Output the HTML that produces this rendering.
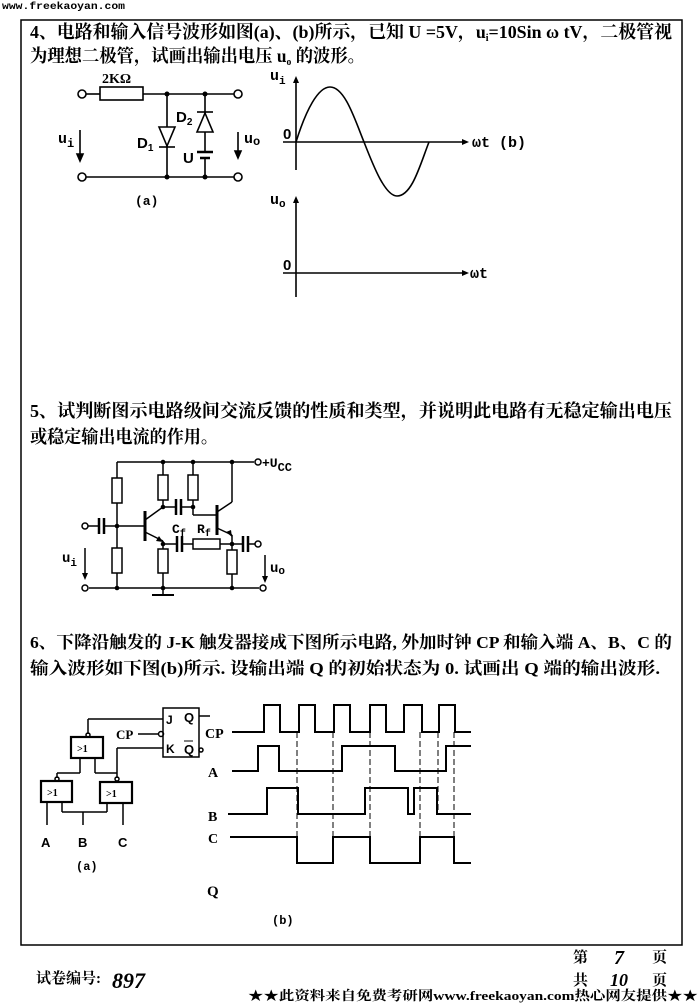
<!DOCTYPE html>
<html><head><meta charset="utf-8"><style>
html,body{margin:0;padding:0;background:#fff;}
svg{display:block;}
text{font-family:"Liberation Serif","Noto Serif CJK SC",serif;font-weight:bold;fill:#000;}
.s{font-family:"Liberation Sans","Noto Sans CJK SC",sans-serif;}
.m{font-family:"Liberation Mono",monospace;}
</style></head><body>
<svg width="700" height="1008" viewBox="0 0 700 1008" xmlns="http://www.w3.org/2000/svg">
<g stroke="#000" fill="none" stroke-width="1.6">
<!-- frame -->
<rect x="21" y="20" width="661" height="925" stroke-width="1.5"/>

<!-- Section 4 circuit (a) -->
<line x1="86" y1="94" x2="100" y2="94"/>
<rect x="100" y="87" width="43" height="13"/>
<line x1="143" y1="94" x2="234" y2="94"/>
<circle cx="82" cy="94" r="4"/><circle cx="238" cy="94" r="4"/>
<line x1="86" y1="177" x2="234" y2="177"/>
<circle cx="82" cy="177" r="4"/><circle cx="238" cy="177" r="4"/>
<line x1="167" y1="94" x2="167" y2="177"/>
<polygon points="159,127 175,127 167,146" fill="#fff"/>
<line x1="159" y1="147" x2="175" y2="147"/>
<line x1="205" y1="94" x2="205" y2="152"/>
<polygon points="197,132 213,132 205,113" fill="#fff"/>
<line x1="197" y1="112" x2="213" y2="112"/>
<line x1="197" y1="152" x2="213" y2="152" stroke-width="2.5"/>
<line x1="200" y1="158" x2="210" y2="158" stroke-width="2.5"/>
<line x1="205" y1="158" x2="205" y2="177"/>
<line x1="80" y1="130" x2="80" y2="158"/>
<polygon points="77,154 83,154 80,161" fill="#000"/>
<line x1="238" y1="132" x2="238" y2="155"/>
<polygon points="235,151 241,151 238,158" fill="#000"/>
</g>
<g fill="#000">
<circle cx="167" cy="94" r="2.5"/><circle cx="205" cy="94" r="2.5"/>
<circle cx="167" cy="177" r="2.5"/><circle cx="205" cy="177" r="2.5"/>
</g>
<text x="30" y="38" font-size="18" textLength="642" lengthAdjust="spacingAndGlyphs">4、电路和输入信号波形如图(a)、(b)所示，已知 U =5V，u<tspan font-size="10" dy="3">i</tspan><tspan dy="-3">=10Sin ω tV，二极管视</tspan></text>
<text x="30" y="62" font-size="18" textLength="335" lengthAdjust="spacingAndGlyphs">为理想二极管，试画出输出电压 u<tspan font-size="10" dy="3">o</tspan><tspan dy="-3"> 的波形。</tspan></text>
<text x="102" y="83" font-size="14">2KΩ</text>
<text x="58" y="143" font-size="15" class="m">u<tspan font-size="12" dy="4">i</tspan></text>
<text x="137" y="148" font-size="15" class="s">D<tspan font-size="10" dy="3">1</tspan></text>
<text x="176" y="122" font-size="15" class="s">D<tspan font-size="10" dy="3">2</tspan></text>
<text x="183" y="163" font-size="15" class="s">U</text>
<text x="244" y="143" font-size="15" class="m">u<tspan font-size="12" dy="2">o</tspan></text>
<text x="135" y="205" font-size="13" class="m">(a)</text>

<!-- graph (b) -->
<g stroke="#000" fill="none" stroke-width="1.6">
<line x1="296" y1="78" x2="296" y2="170"/>
<line x1="283" y1="142" x2="462" y2="142"/>
<path d="M296,142 C306,110 318,87 330,87 C345,87 355,120 364,142 C373,165 385,196 397,196 C412,196 420,165 429,142"/>
<line x1="296" y1="198" x2="296" y2="297"/>
<line x1="283" y1="273" x2="462" y2="273"/>
</g>
<g fill="#000">
<polygon points="293,83 299,83 296,76"/>
<polygon points="462,139 462,145 469,142"/>
<polygon points="293,203 299,203 296,196"/>
<polygon points="462,270 462,276 469,273"/>
</g>
<text x="270" y="80" font-size="15" class="m">u<tspan font-size="11" dy="4">i</tspan></text>
<text x="283" y="139" font-size="15" class="s">0</text>
<text x="472" y="147" font-size="15" class="m">ωt (b)</text>
<text x="270" y="204" font-size="15" class="m">u<tspan font-size="11" dy="3">o</tspan></text>
<text x="283" y="270" font-size="15" class="s">0</text>
<text x="470" y="278" font-size="15" class="m">ωt</text>

<!-- Section 5 -->
<text x="30" y="417" font-size="18" textLength="642" lengthAdjust="spacingAndGlyphs">5、试判断图示电路级间交流反馈的性质和类型，并说明此电路有无稳定输出电压</text>
<text x="30" y="443" font-size="18" textLength="188" lengthAdjust="spacingAndGlyphs">或稳定输出电流的作用。</text>
<g stroke="#000" fill="none" stroke-width="1.5">
<line x1="117" y1="462" x2="254" y2="462"/>
<circle cx="258" cy="462" r="3"/>
<line x1="89" y1="588" x2="259" y2="588"/>
<circle cx="85" cy="588" r="3"/><circle cx="263" cy="588" r="3"/>
<!-- left column -->
<line x1="117" y1="462" x2="117" y2="478"/>
<rect x="112" y="478" width="10" height="25"/>
<line x1="117" y1="503" x2="117" y2="548"/>
<rect x="112" y="548" width="10" height="25"/>
<line x1="117" y1="573" x2="117" y2="588"/>
<circle cx="85" cy="526" r="3"/>
<line x1="88" y1="526" x2="99" y2="526"/>
<line x1="99" y1="518" x2="99" y2="534" stroke-width="2.5"/>
<line x1="104" y1="518" x2="104" y2="534" stroke-width="2.5"/>
<line x1="104" y1="526" x2="145" y2="526"/>
<!-- Q1 -->
<line x1="145" y1="511" x2="145" y2="541" stroke-width="3"/>
<line x1="145" y1="520" x2="163" y2="507"/>
<line x1="145" y1="532" x2="163" y2="541"/>
<line x1="163" y1="462" x2="163" y2="475"/>
<rect x="158" y="475" width="10" height="25"/>
<line x1="163" y1="500" x2="163" y2="507"/>
<line x1="163" y1="541" x2="163" y2="549"/>
<rect x="158" y="549" width="10" height="24"/>
<line x1="163" y1="573" x2="163" y2="595"/>
<line x1="152" y1="595" x2="174" y2="595" stroke-width="2"/>
<!-- coupling cap -->
<line x1="163" y1="507" x2="176" y2="507"/>
<line x1="176" y1="499" x2="176" y2="515" stroke-width="2.5"/>
<line x1="181" y1="499" x2="181" y2="515" stroke-width="2.5"/>
<line x1="181" y1="507" x2="193" y2="507"/>
<line x1="193" y1="462" x2="193" y2="475"/>
<rect x="188" y="475" width="10" height="25"/>
<line x1="193" y1="500" x2="193" y2="515"/>
<line x1="193" y1="515" x2="217" y2="515"/>
<!-- Q2 -->
<line x1="217" y1="505" x2="217" y2="535" stroke-width="3"/>
<line x1="217" y1="512" x2="232" y2="502"/>
<line x1="232" y1="502" x2="232" y2="462"/>
<line x1="217" y1="528" x2="232" y2="535"/>
<line x1="232" y1="535" x2="232" y2="550"/>
<rect x="227" y="550" width="10" height="24"/>
<line x1="232" y1="574" x2="232" y2="588"/>
<!-- Cf Rf -->
<line x1="163" y1="544" x2="177" y2="544"/>
<line x1="177" y1="536" x2="177" y2="552" stroke-width="2.5"/>
<line x1="182" y1="536" x2="182" y2="552" stroke-width="2.5"/>
<line x1="182" y1="544" x2="193" y2="544"/>
<rect x="193" y="539" width="27" height="10"/>
<line x1="220" y1="544" x2="243" y2="544"/>
<line x1="243" y1="536" x2="243" y2="552" stroke-width="2.5"/>
<line x1="248" y1="536" x2="248" y2="552" stroke-width="2.5"/>
<line x1="248" y1="544" x2="255" y2="544"/>
<circle cx="258" cy="544" r="3"/>
<line x1="85" y1="548" x2="85" y2="575"/>
<line x1="265" y1="555" x2="265" y2="578"/>
</g>
<g fill="#000">
<circle cx="117" cy="526" r="2.3"/><circle cx="117" cy="588" r="2.3"/>
<circle cx="163" cy="462" r="2.3"/><circle cx="193" cy="462" r="2.3"/><circle cx="232" cy="462" r="2.3"/>
<circle cx="163" cy="507" r="2.3"/><circle cx="193" cy="507" r="2.3"/>
<circle cx="163" cy="544" r="2.3"/><circle cx="232" cy="544" r="2.3"/>
<circle cx="163" cy="588" r="2.3"/><circle cx="232" cy="588" r="2.3"/>
<polygon points="82,573 88,573 85,580"/>
<polygon points="262,576 268,576 265,583"/>
<polygon points="232,537 226,532 231,530"/>
<polygon points="163,542 156,541 159,536"/>
</g>
<text x="262" y="467" font-size="13" class="m">+U<tspan font-size="12" dy="4">CC</tspan></text>
<text x="172" y="533" font-size="13" class="m">C<tspan font-size="10" dy="3">f</tspan></text>
<text x="197" y="533" font-size="13" class="m">R<tspan font-size="10" dy="3">f</tspan></text>
<text x="62" y="562" font-size="14" class="m">u<tspan font-size="11" dy="4">i</tspan></text>
<text x="270" y="572" font-size="14" class="m">u<tspan font-size="11" dy="2">o</tspan></text>

<!-- Section 6 -->
<text x="30" y="648" font-size="17" textLength="642" lengthAdjust="spacingAndGlyphs">6、下降沿触发的 J-K 触发器接成下图所示电路, 外加时钟 CP 和输入端 A、B、C 的</text>
<text x="30" y="674" font-size="17" textLength="630" lengthAdjust="spacingAndGlyphs">输入波形如下图(b)所示. 设输出端 Q 的初始状态为 0. 试画出 Q 端的输出波形.</text>
<g stroke="#000" fill="none" stroke-width="1.5">
<rect x="163" y="708" width="36" height="49"/>
<line x1="199" y1="716" x2="210" y2="716"/>
<circle cx="201" cy="750" r="2"/>
<line x1="88" y1="719" x2="163" y2="719"/>
<line x1="88" y1="719" x2="88" y2="734"/>
<circle cx="88" cy="735" r="2"/>
<line x1="138" y1="734" x2="158" y2="734"/>
<circle cx="161" cy="734" r="2.5"/>
<line x1="117" y1="748" x2="163" y2="748"/>
<line x1="117" y1="748" x2="117" y2="778"/>
<circle cx="117" cy="779" r="2"/>
<rect x="71" y="737" width="32" height="21" stroke-width="2.2"/>
<line x1="80" y1="758" x2="80" y2="773"/>
<line x1="57" y1="773" x2="80" y2="773"/>
<line x1="57" y1="773" x2="57" y2="778"/>
<circle cx="57" cy="779" r="2"/>
<line x1="95" y1="758" x2="95" y2="773"/>
<line x1="95" y1="773" x2="117" y2="773"/>
<rect x="41" y="781" width="31" height="21" stroke-width="2.2"/>
<rect x="100" y="782" width="32" height="21" stroke-width="2.2"/>
<line x1="47" y1="802" x2="47" y2="825"/>
<line x1="62" y1="802" x2="62" y2="812"/>
<line x1="107" y1="803" x2="107" y2="812"/>
<line x1="62" y1="812" x2="107" y2="812"/>
<line x1="83" y1="812" x2="83" y2="825"/>
<line x1="123" y1="803" x2="123" y2="825"/>
</g>
<g font-size="10" class="s">
<text x="77" y="752">&gt;1</text><text x="47" y="796">&gt;1</text><text x="106" y="797">&gt;1</text>
</g>
<text x="166" y="724" font-size="12" class="s">J</text>
<text x="166" y="753" font-size="12" class="s">K</text>
<text x="184" y="722" font-size="13" class="s">Q</text>
<text x="184" y="754" font-size="13" class="s">Q</text>
<line x1="184" y1="741" x2="193" y2="741" stroke="#000" stroke-width="1"/>
<text x="116" y="739" font-size="13">CP</text>
<text x="41" y="847" font-size="13" class="s">A</text>
<text x="78" y="847" font-size="13" class="s">B</text>
<text x="118" y="847" font-size="13" class="s">C</text>
<text x="76" y="870" font-size="12" class="m">(a)</text>

<!-- waveforms -->
<g stroke="#000" fill="none" stroke-width="2">
<polyline points="232,732 264,732 264,705 280,705 280,732 299,732 299,705 315,705 315,732 334,732 334,705 350,705 350,732 370,732 370,705 386,705 386,732 404,732 404,705 422,705 422,732 439,732 439,705 455,705 455,732 471,732"/>
<polyline points="232,771 258,771 258,746 279,746 279,771 342,771 342,746 395,746 395,771 446,771 446,746 471,746"/>
<polyline points="228,814 267,814 267,788 298,788 298,814 365,814 365,788 408,788 408,814 414,814 414,788 437,788 437,814 471,814"/>
<polyline points="230,837 297,837 297,863 333,863 333,837 370,837 370,863 420,863 420,837 454,837 454,863 471,863"/>
</g>
<g stroke="#000" stroke-width="1" stroke-dasharray="6,3">
<line x1="297" y1="732" x2="297" y2="837"/>
<line x1="333" y1="732" x2="333" y2="837"/>
<line x1="370" y1="732" x2="370" y2="837"/>
<line x1="420" y1="732" x2="420" y2="837"/>
<line x1="438" y1="732" x2="438" y2="814"/>
<line x1="454" y1="732" x2="454" y2="837"/>
</g>
<text x="205" y="738" font-size="14">CP</text>
<text x="208" y="777" font-size="14">A</text>
<text x="208" y="821" font-size="14">B</text>
<text x="208" y="843" font-size="14">C</text>
<text x="207" y="896" font-size="15">Q</text>
<text x="272" y="924" font-size="12" class="m">(b)</text>

<!-- footer -->
<text x="2" y="9" font-size="10" class="m" textLength="123" lengthAdjust="spacingAndGlyphs">www.freekaoyan.com</text>
<text x="573" y="962" font-size="15">第</text>
<text x="614" y="964" font-size="20" font-style="italic" font-weight="normal">7</text>
<text x="652" y="962" font-size="15">页</text>
<text x="573" y="985" font-size="15">共</text>
<text x="610" y="986" font-size="18" font-style="italic" font-weight="normal">10</text>
<text x="652" y="985" font-size="15">页</text>
<text x="36" y="983" font-size="15">试卷编号:</text>
<text x="112" y="988" font-size="22" font-style="italic" font-weight="normal">897</text>
<text x="248" y="1000" font-size="13" textLength="450" lengthAdjust="spacingAndGlyphs">★★此资料来自免费考研网www.freekaoyan.com热心网友提供★★</text>
</svg>
</body></html>
